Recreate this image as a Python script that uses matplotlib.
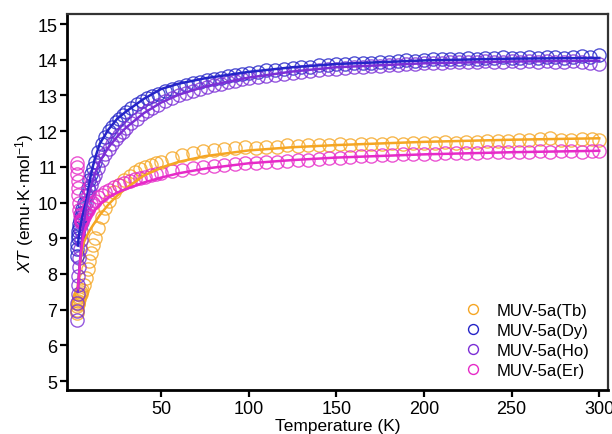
#!/usr/bin/env python3
"""Chi*T versus temperature for the MUV-5a lanthanide series."""

import matplotlib

matplotlib.use("Agg")
import matplotlib.pyplot as plt


OUT = "out.png"

# temperatures (K) of the Dy / Ho measurements
T_DY_HO = [1.8, 2.0, 2.2, 2.4, 2.6, 2.8, 3.0, 3.3, 3.6, 4.0, 4.5, 5, 6, 7, 8, 9, 10, 11, 12,
           14, 16, 18, 20, 22, 24, 26, 28, 30,
           33, 36, 39, 42, 45, 48,
           52, 56, 60, 64, 68, 72, 76, 80, 84, 88, 92, 96, 100,
           105, 110, 115, 120, 125, 130, 135, 140, 145, 150, 155, 160, 165, 170, 175, 180, 185, 190,
           195, 200, 205, 210, 215, 220, 225, 230, 235, 240, 245, 250, 255, 260, 265, 270, 275, 280,
           285, 290, 295, 300]

DY = [8.5, 8.7, 8.85, 9.0, 9.1, 9.2, 9.3, 9.4, 9.5, 9.6, 9.72, 9.82, 10.0, 10.2, 10.42, 10.62,
      10.8, 10.98, 11.15,
      11.42, 11.65, 11.85, 12.0, 12.13, 12.25, 12.35, 12.45, 12.53,
      12.65, 12.75, 12.84, 12.92, 12.99, 13.05,
      13.12, 13.18, 13.24, 13.29, 13.34, 13.39, 13.43, 13.47, 13.5, 13.54, 13.57, 13.6, 13.63,
      13.67, 13.7, 13.72, 13.75, 13.77, 13.8, 13.81, 13.84, 13.85, 13.87, 13.88, 13.9, 13.92, 13.91,
      13.94, 13.95, 13.96, 13.98, 13.97, 14.0, 14.02, 14.01, 14.03, 14.02, 14.05, 14.03, 14.06, 14.04,
      14.07, 14.05, 14.06, 14.08, 14.05, 14.07, 14.09, 14.06, 14.08, 14.1, 14.07, 14.12]

HO = [6.7, 6.95, 7.2, 7.45, 7.7, 7.95, 8.2, 8.45, 8.7, 8.95, 9.2, 9.45, 9.75, 10.0, 10.2, 10.35,
      10.5, 10.65, 10.78,
      10.98, 11.18, 11.35, 11.5, 11.64, 11.77, 11.88, 11.98, 12.08,
      12.22, 12.35, 12.47, 12.57, 12.66, 12.74,
      12.84, 12.93, 13.0, 13.07, 13.13, 13.19, 13.24, 13.29, 13.33, 13.37, 13.41, 13.45, 13.48,
      13.52, 13.55, 13.58, 13.61, 13.64, 13.66, 13.69, 13.71, 13.73, 13.75, 13.77, 13.79, 13.8, 13.82,
      13.83, 13.85, 13.86, 13.88, 13.89, 13.9, 13.91, 13.92, 13.93, 13.93, 13.95, 13.94, 13.96, 13.95,
      13.94, 13.96, 13.95, 13.97, 13.94, 13.96, 13.95, 13.93, 13.96, 13.94, 13.92, 13.88]

# temperatures (K) of the Tb / Er measurements
T_TB_ER = [1.8, 2.0, 2.2, 2.4, 2.6, 2.8, 3.0, 3.3, 3.6, 4.0, 4.5, 5, 6, 7, 8, 9, 10, 11, 12,
           14, 16, 18, 20,
           23, 26, 29, 32, 35, 38, 41, 44, 47, 50,
           56, 62, 68, 74, 80, 86, 92, 98, 104, 110, 116, 122, 128, 134, 140, 146, 152, 158, 164,
           170, 176, 182, 188, 194, 200, 206, 212, 218, 224, 230, 236, 242, 248, 254, 260, 266, 272,
           278, 284, 290, 296, 300]

TB = [6.9, 7.0, 7.1, 7.15, 7.2, 7.25, 7.3, 7.35, 7.4, 7.45, 7.5, 7.55, 7.7, 7.9, 8.15, 8.35,
      8.6, 8.8, 9.0,
      9.3, 9.6, 9.85, 10.05,
      10.3, 10.48, 10.62, 10.75, 10.85, 10.93, 11.0, 11.06, 11.1, 11.15,
      11.25, 11.33, 11.4, 11.44, 11.47, 11.5, 11.52, 11.55, 11.53, 11.57, 11.55, 11.6, 11.58, 11.62,
      11.6, 11.62, 11.63, 11.62, 11.64, 11.63, 11.65, 11.66, 11.65, 11.67, 11.68, 11.67, 11.7, 11.68,
      11.71, 11.7, 11.72, 11.73, 11.72, 11.75, 11.74, 11.78, 11.8, 11.76, 11.75, 11.77, 11.78,
      11.76]

ER = [11.1, 11.0, 10.8, 10.6, 10.4, 10.2, 10.0, 9.8, 9.65, 9.5, 9.45, 9.5, 9.6, 9.7, 9.8, 9.87,
      9.95, 10.0, 10.05,
      10.15, 10.22, 10.3, 10.36,
      10.43, 10.5, 10.56, 10.6, 10.65, 10.7, 10.73, 10.77, 10.8, 10.83,
      10.88, 10.92, 10.97, 11.0, 11.03, 11.06, 11.08, 11.1, 11.1, 11.14, 11.13, 11.17, 11.2, 11.2,
      11.22, 11.25, 11.25, 11.28, 11.3, 11.3, 11.32, 11.33, 11.35, 11.35, 11.37, 11.37, 11.38, 11.4,
      11.4, 11.4, 11.42, 11.42, 11.41, 11.43, 11.43, 11.44, 11.42, 11.44, 11.44, 11.43, 11.45,
      11.44]

# fitted curves
T_FIT = [2.5, 3, 3.5, 4, 5, 6, 7, 8, 10, 12, 15, 20, 25, 30, 40, 50, 60, 75, 100, 125, 150, 200,
         250, 300]
DY_FIT = [8.8, 9.05, 9.2, 9.35, 9.6, 9.8, 10.0, 10.25, 10.8, 11.2, 11.65, 12.05, 12.35, 12.55,
          12.9, 13.18, 13.33, 13.48, 13.66, 13.79, 13.88, 13.98, 14.03, 14.05]
HO_FIT = [7.5, 7.9, 8.25, 8.55, 9.05, 9.45, 9.8, 10.05, 10.45, 10.78, 11.15, 11.55, 11.85, 12.1,
          12.5, 12.8, 13.02, 13.25, 13.5, 13.67, 13.79, 13.9, 13.95, 13.97]
TB_FIT = [7.7, 7.9, 8.15, 8.4, 8.7, 8.9, 9.0, 9.1, 9.28, 9.43, 9.65, 9.95, 10.2, 10.4, 10.75, 10.98,
          11.14, 11.3, 11.46, 11.55, 11.61, 11.7, 11.76, 11.8]
ER_FIT = [7.6, 7.9, 8.2, 8.5, 8.9, 9.15, 9.3, 9.42, 9.62, 9.78, 9.95, 10.15, 10.28, 10.38, 10.56,
          10.7, 10.82, 10.95, 11.1, 11.19, 11.26, 11.35, 11.41, 11.45]

LABELS = ["MUV-5a(Tb)", "MUV-5a(Dy)", "MUV-5a(Ho)", "MUV-5a(Er)"]
COLORS = {"Tb": "#F5A623", "Dy": "#2424C8", "Ho": "#7B2ED6", "Er": "#E62AC8"}

Y_TICKS = [5, 6, 7, 8, 9, 10, 11, 12, 13, 14, 15]
X_TICKS = [50, 100, 150, 200, 250, 300]


def style_axes(ax):
    for side in ("left", "bottom"):
        ax.spines[side].set_linewidth(2.0)
        ax.spines[side].set_color("black")
    for side in ("top", "right"):
        ax.spines[side].set_linewidth(1.6)
        ax.spines[side].set_color("#333333")
    ax.tick_params(direction="out", length=5, width=1.6, labelsize=13, pad=2)
    ax.tick_params(top=False, right=False)
    ax.set_xticks(X_TICKS)
    ax.set_yticks(Y_TICKS)
    ax.set_xlim(-3.7, 305)
    ax.set_ylim(4.75, 15.28)


def main():
    plt.rcParams["font.family"] = ["Liberation Sans", "DejaVu Sans"]
    plt.rcParams["mathtext.fontset"] = "custom"
    plt.rcParams["mathtext.rm"] = "Liberation Sans"
    plt.rcParams["mathtext.it"] = "Liberation Sans:italic"

    fig = plt.figure(figsize=(6.12, 4.35), dpi=100)
    ax = fig.add_axes([0.1095, 0.101, 0.884, 0.8645])

    series = [
        ("Tb", T_TB_ER, TB, TB_FIT),
        ("Dy", T_DY_HO, DY, DY_FIT),
        ("Ho", T_DY_HO, HO, HO_FIT),
        ("Er", T_TB_ER, ER, ER_FIT),
    ]
    handles = []
    for (key, temps, values, _), label in zip(series, LABELS):
        (h,) = ax.plot(temps, values, "o", ms=9.5, mfc="none", mec=COLORS[key], mew=1.0,
                       alpha=0.8, label=label)
        handles.append(h)
    for key, _, _, fit in series:
        ax.plot(T_FIT, fit, color=COLORS[key], lw=1.8)

    style_axes(ax)
    ax.set_xlabel("Temperature (K)", fontsize=12.5, labelpad=1)
    ax.set_ylabel(r"$\mathit{XT}$ (emu·K·mol$^{-1}$)", fontsize=12.5)
    ax.yaxis.set_label_coords(-0.058, 0.5)

    leg = ax.legend(handles=handles, loc="lower right", bbox_to_anchor=(0.989, 0.0),
                    frameon=False, fontsize=12, handlelength=1.0, handletextpad=0.9,
                    labelspacing=0.3, borderaxespad=0.35, markerscale=0.75)
    for h in leg.legend_handles:
        h.set_alpha(1.0)

    fig.savefig(OUT, dpi=100)
    plt.close(fig)


if __name__ == "__main__":
    main()
